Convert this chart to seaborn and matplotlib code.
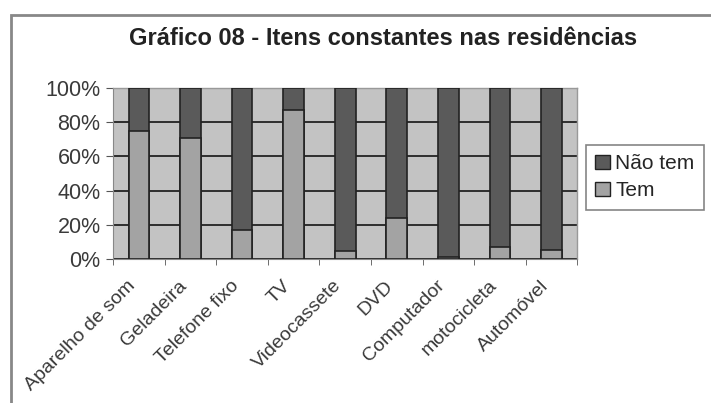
import pandas as pd
import numpy as np
import matplotlib.pyplot as plt
import matplotlib.transforms as mtransforms
import seaborn as sns
from matplotlib.patches import Patch, Rectangle

# Data (percent of households)
itens = ['Aparelho de som', 'Geladeira', 'Telefone fixo', 'TV', 'Videocassete',
         'DVD', 'Computador', 'motocicleta', 'Automóvel']
tem = [75, 71, 17, 87, 5, 24, 1.5, 7, 5.5]
nao_tem = [100 - v for v in tem]

df = pd.DataFrame({'item': itens, 'Tem': tem, 'Não tem': nao_tem})
df['total'] = df['Tem'] + df['Não tem']

sns.set_style('white')
plt.rcParams['font.family'] = ['Liberation Sans', 'DejaVu Sans']

fig = plt.figure(figsize=(7.11, 4.03), dpi=100)
ax = fig.add_axes([0.159, 0.357, 0.653, 0.425])

c_tem = '#a3a3a3'
c_nao = '#5a5a5a'
ax.set_facecolor('#c3c3c3')

# Stacked bars: full height first (Não tem on top), then Tem from the bottom
sns.barplot(data=df, x='item', y='total', color=c_nao, width=0.4,
            edgecolor='#222222', linewidth=1.2, saturation=1, ax=ax, zorder=3)
sns.barplot(data=df, x='item', y='Tem', color=c_tem, width=0.4,
            edgecolor='#222222', linewidth=1.2, saturation=1, ax=ax, zorder=4)

ax.set_ylim(0, 100)
ax.set_xlim(-0.5, len(itens) - 0.5)
ax.set_yticks(range(0, 101, 20))
ax.set_yticklabels([f'{v}%' for v in range(0, 101, 20)], fontsize=15.5, color='#3a3a3a')
ax.yaxis.grid(True, color='#222222', linewidth=1.3, zorder=1)
ax.set_axisbelow(True)

ax.set_xticks(range(len(itens)))
ax.set_xticklabels(itens, rotation=45, ha='right', rotation_mode='anchor',
                   fontsize=14, color='#3a3a3a')
ax.tick_params(axis='x', length=0, pad=13)
# nudge the rotated labels a little to the left
shift = mtransforms.ScaledTranslation(-12 / 100, 0, fig.dpi_scale_trans)
for lbl in ax.get_xticklabels():
    lbl.set_transform(lbl.get_transform() + shift)
ax.tick_params(axis='y', length=5, color='#555555', direction='out', left=True, pad=4)
# category boundary ticks, Excel-style
ax.set_xticks(np.arange(-0.5, len(itens), 1), minor=True)
ax.tick_params(axis='x', which='minor', length=4, color='#555555', bottom=True)

for s in ['top', 'right']:
    ax.spines[s].set_color('#999999')
    ax.spines[s].set_linewidth(1)
ax.spines['left'].set_color('#888888')
ax.spines['bottom'].set_color('#888888')
ax.set_xlabel('')
ax.set_ylabel('')

fig.text(0.539, 0.905, 'Gráfico 08 - Itens constantes nas residências',
         ha='center', va='center', fontsize=17, fontweight='bold', color='#222222')

handles = [Patch(facecolor=c_nao, edgecolor='#222222', label='Não tem'),
           Patch(facecolor=c_tem, edgecolor='#222222', label='Tem')]
leg = fig.legend(handles=handles, loc='center left', bbox_to_anchor=(0.824, 0.56),
                 fontsize=15, frameon=True, fancybox=False, edgecolor='#666666',
                 handlelength=0.7, handleheight=0.7, handletextpad=0.25,
                 labelspacing=0.4, borderpad=0.45, borderaxespad=0)
leg.get_frame().set_linewidth(1.2)

# outer chart border (top and left visible)
fig.patches.append(Rectangle((0.016, -0.02), 1.0, 0.983, transform=fig.transFigure,
                             fill=False, edgecolor='#888888', linewidth=2))

fig.savefig('out.png', dpi=100)
